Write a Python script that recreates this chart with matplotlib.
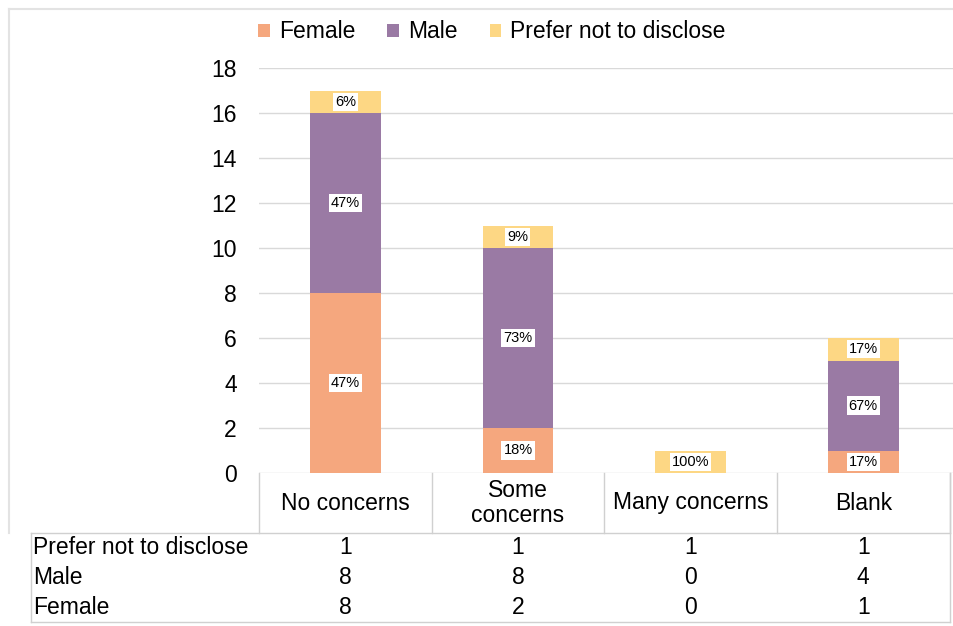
import matplotlib.pyplot as plt
from matplotlib.transforms import blended_transform_factory

plt.rcParams['font.family'] = ['Liberation Sans', 'DejaVu Sans']

# === Données ===
categories = ['No concerns', 'Some\nconcerns', 'Many concerns', 'Blank']
female = [8, 2, 0, 1]
male = [8, 8, 0, 4]
prefer = [1, 1, 1, 1]
series_names = ['Female', 'Male', 'Prefer not to disclose']
couleurs = ['#F5A77E', '#9A7AA4', '#FDD784']

fig = plt.figure(figsize=(9.54, 6.26), dpi=100)
ax = fig.add_axes([259 / 954, 1 - 473 / 626, 694 / 954, 405 / 626])

x = list(range(len(categories)))
totaux = [f + m + p for f, m, p in zip(female, male, prefer)]
bas = [0] * len(categories)
for nom, vals, c in zip(series_names, [female, male, prefer], couleurs):
    ax.bar(x, vals, bottom=bas, width=0.41, color=c, label=nom, zorder=2)
    for i, v in enumerate(vals):
        if v > 0:
            pct = round(100 * v / totaux[i])
            ax.text(i, bas[i] + v / 2, f'{pct}%', ha='center', va='center',
                    fontsize=10.5, zorder=3,
                    bbox=dict(facecolor='white', edgecolor='none', pad=1.5))
    bas = [b + v for b, v in zip(bas, vals)]

ax.set_xlim(-0.5, len(categories) - 0.5 + 0.02)
ax.set_ylim(0, 18)
ax.set_yticks(range(0, 19, 2))
ax.tick_params(axis='y', labelsize=16.5, length=0, pad=16)
ax.set_xticks([])
ax.grid(axis='y', color='#d9d9d9', linewidth=1, zorder=0)
for s in ax.spines.values():
    s.set_visible(False)

leg = fig.legend(loc='center', bbox_to_anchor=(492 / 954, 1 - 32 / 626), ncol=3,
                 frameon=False, fontsize=16.5, handlelength=0.5, handleheight=0.5,
                 handletextpad=0.4, columnspacing=1.4)

# === Tableau de données ===
tr = blended_transform_factory(ax.transData, fig.transFigure)
ligne = dict(color='#d0d0d0', linewidth=1)
fs = 16.5

def fy(py):
    return 1 - py / 626

def fx(px):
    return px / 954

# en-tête
for k in range(len(categories) + 1):
    xb = k - 0.5
    fig.add_artist(plt.Line2D([xb, xb], [fy(473), fy(533)], transform=tr, **ligne))
for i, cat in enumerate(categories):
    fig.text(i, fy(503), cat, transform=tr, ha='center', va='center', fontsize=fs,
             linespacing=1.15)

# lignes de données
rows = [('Prefer not to disclose', prefer), ('Male', male), ('Female', female)]
for j, (nom, vals) in enumerate(rows):
    yy = fy(548 + 30 * j)
    fig.text(fx(33), yy, nom, ha='left', va='center', fontsize=fs)
    for i, v in enumerate(vals):
        fig.text(i, yy, str(v), transform=tr, ha='center', va='center', fontsize=fs)

# cadres
fig.add_artist(plt.Line2D([fx(31), fx(950)], [fy(533), fy(533)], **ligne))
fig.add_artist(plt.Line2D([fx(31), fx(31)], [fy(533), fy(622)], **ligne))
fig.add_artist(plt.Line2D([fx(31), fx(950)], [fy(622), fy(622)], **ligne))
fig.add_artist(plt.Line2D([fx(950), fx(950)], [fy(473), fy(622)], **ligne))
fig.add_artist(plt.Line2D([fx(9), fx(9)], [fy(9), fy(533)], color='#e3e3e3', linewidth=1.5))
fig.add_artist(plt.Line2D([fx(9), fx(954)], [fy(9), fy(9)], color='#e3e3e3', linewidth=1.5))

fig.savefig('out.png', dpi=100)
